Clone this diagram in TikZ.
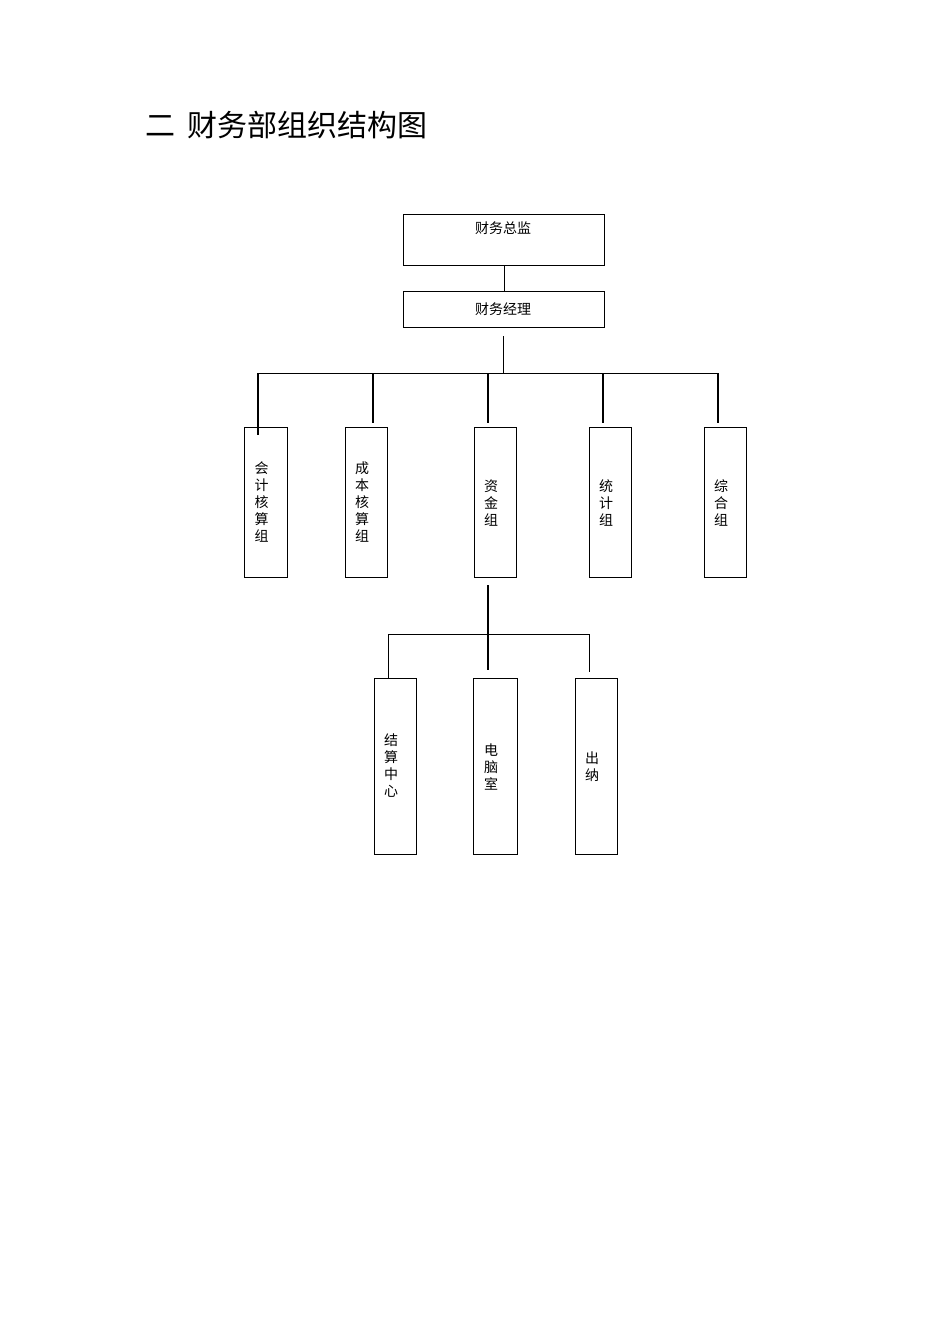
\documentclass[tikz,border=0pt]{standalone}
\usepackage{fontspec}
\newfontfamily\cjk{Noto Sans CJK SC}
\begin{document}
\begin{tikzpicture}[x=1pt,y=-1pt,
  box/.style={draw,line width=0.8pt,anchor=north west,inner sep=0pt},
  vt/.style={font=\cjk\fontsize{14}{17}\selectfont,align=center,inner sep=0pt},
  thin/.style={line width=0.8pt},
  thick/.style={line width=1.8pt}]
\useasboundingbox (0,0) rectangle (950,1344);
\node[anchor=west,font=\cjk\fontsize{30}{34}\selectfont,inner sep=0pt] (title) at (145,125) {二\hspace{0.4em}财务部组织结构图};
% top boxes
\node[box,minimum width=201pt,minimum height=51pt] (zj) at (403,214) {};
\node[vt] at (503,228) {财务总监};
\node[box,minimum width=201pt,minimum height=36pt] (jl) at (403,291) {};
\node[vt] at (503,309) {财务经理};
\draw[thin] (zj.south) -- (jl.north);
\coordinate (jb) at (503,336);
\coordinate (hb) at (503,373);
\draw[thin] (jb) -- (hb);
\draw[thin] (258,373) -- (718,373);
% second level
\foreach \n/\x/\w/\t/\ty in {a/244/43/会\\计\\核\\算\\组/502, b/345/42/成\\本\\核\\算\\组/502, c/474/42/资\\金\\组/503, d/589/42/统\\计\\组/503, e/704/42/综\\合\\组/503}{
  \node[box,minimum width=\w pt,minimum height=150pt] (\n) at (\x,427) {};
  \node[vt] at (\x+\w/2-4,\ty) {\t};
}
\draw[thick] (258,373) -- (258,435);
\draw[thick] (373,373) -- (373,423);
\draw[thick] (488,373) -- (488,423);
\draw[thick] (603,373) -- (603,423);
\draw[thick] (718,373) -- (718,423);
% third level
\coordinate (cb) at (488,585);
\draw[thick] (cb) -- (488,670);
\draw[thin] (388,678) -- (388,634) -- (589,634) -- (589,672);
\foreach \n/\x/\w/\t/\ty in {f/374/42/结\\算\\中\\心/766, g/473/44/电\\脑\\室/767, h/575/42/出\\纳/767}{
  \node[box,minimum width=\w pt,minimum height=176pt] (\n) at (\x,678) {};
  \node[vt] at (\x+\w/2-4,\ty) {\t};
}
\end{tikzpicture}
\end{document}
